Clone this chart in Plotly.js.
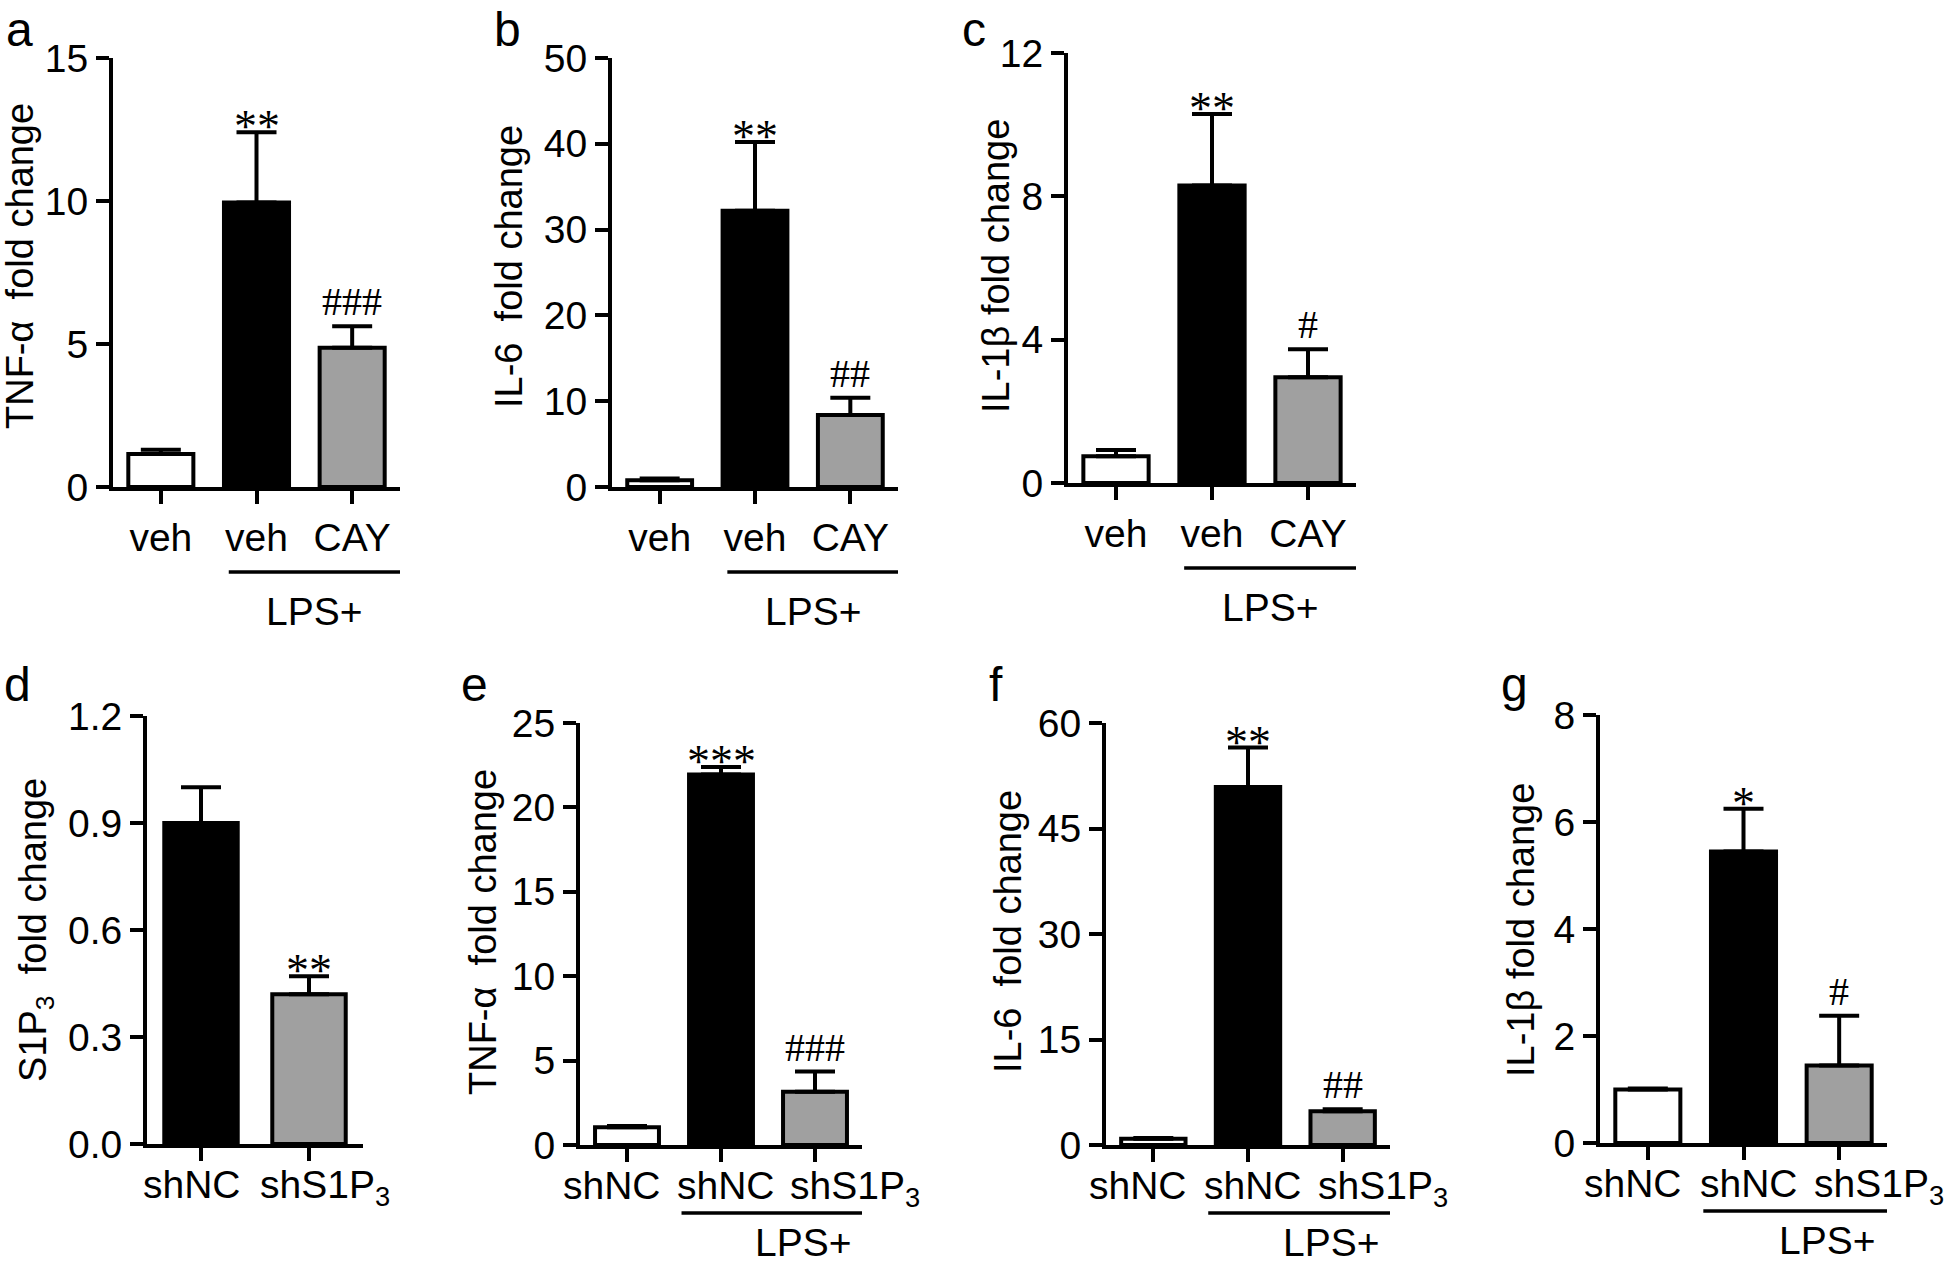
<!DOCTYPE html>
<html>
<head>
<meta charset="utf-8">
<script src="https://cdn.plot.ly/plotly-3.0.1.min.js"></script>
<style>html,body{margin:0;padding:0;background:#fff;}#chart{width:1946px;height:1274px;}</style>
</head>
<body>
<div id="chart"></div>
<script>
// ---------- data ----------
const labelsTop = ['veh', 'veh', 'CAY'];
const labelsD = ['shNC', 'shS1P<sub>3</sub>'];
const labelsBottom = ['shNC', 'shNC', 'shS1P<sub>3</sub>'];

const tnfA = [1.15, 9.95, 4.87];
const tnfAErr = [0.15, 2.45, 0.75];
const sigA = ['', '**', '###'];

const il6B = [0.8, 32.2, 8.4];
const il6BErr = [0.2, 8.0, 2.0];
const sigB = ['', '**', '##'];

const il1bC = [0.75, 8.3, 2.95];
const il1bCErr = [0.17, 2.0, 0.78];
const sigC = ['', '**', '#'];

const s1p3D = [0.90, 0.42];
const s1p3DErr = [0.10, 0.05];
const sigD = ['', '**'];

const tnfE = [1.05, 21.95, 3.15];
const tnfEErr = [0.08, 0.45, 1.2];
const sigE = ['', '***', '###'];

const il6F = [0.9, 50.9, 4.8];
const il6FErr = [0.1, 5.6, 0.3];
const sigF = ['', '**', '##'];

const il1bG = [1.0, 5.45, 1.45];
const il1bGErr = [0.02, 0.8, 0.93];
const sigG = ['', '*', '#'];

const yTitles = ['TNF-\u03b1\u00a0 fold change', 'IL-6\u00a0 fold change', 'IL-1\u03b2 fold change',
                 'S1P<sub>3</sub>\u00a0 fold change', 'TNF-\u03b1\u00a0 fold change', 'IL-6\u00a0 fold change', 'IL-1\u03b2 fold change'];
const panelLetters = ['a', 'b', 'c', 'd', 'e', 'f', 'g'];
const yMax = [15, 50, 12, 1.2, 25, 60, 8];
const yStep = [5, 10, 4, 0.3, 5, 15, 2];
const groupLabel = 'LPS+';

// ---------- layout (pixels) ----------
const W = 1946, H = 1274;
const px = x => x / W;
const py = y => 1 - y / H;
// [left(y-axis), right(x-axis end), top, bottom(zero)]
const boxes = [
  [113, 400, 58, 487],
  [612, 898, 58, 487],
  [1068, 1356, 53, 483],
  [147, 363, 716, 1144],
  [580, 862, 723, 1145],
  [1106, 1390, 723, 1145],
  [1600, 1887, 715, 1143]
];
const titleX = [20, 509, 996, 36, 483, 1008, 1521];
const titleY = [266, 266, 266, 930, 932, 932, 930];
// left edge and top edge of the panel letters
const letterPos = [[4, 1], [492, 1], [960, 1], [2, 656], [459, 656], [987, 656], [1499, 656]];
const fillColors = ['#ffffff', '#000000', '#a0a0a0'];
const labelShift3 = [-15, 5, 40];
const labelShift2 = [-9, 16];

const panels = [
  {labels: labelsTop, vals: tnfA, errs: tnfAErr, sig: sigA},
  {labels: labelsTop, vals: il6B, errs: il6BErr, sig: sigB},
  {labels: labelsTop, vals: il1bC, errs: il1bCErr, sig: sigC},
  {labels: labelsD, vals: s1p3D, errs: s1p3DErr, sig: sigD},
  {labels: labelsBottom, vals: tnfE, errs: tnfEErr, sig: sigE},
  {labels: labelsBottom, vals: il6F, errs: il6FErr, sig: sigF},
  {labels: labelsBottom, vals: il1bG, errs: il1bGErr, sig: sigG}
];

const FONT = 'Liberation Sans, Arial, sans-serif';
const SERIF = 'Liberation Serif, Times New Roman, serif';
const traces = [];
const layout = {
  width: W, height: H,
  margin: {l: 0, r: 0, t: 0, b: 0},
  paper_bgcolor: '#fff', plot_bgcolor: '#fff',
  showlegend: false,
  bargap: 0.32,
  annotations: [], shapes: [],
  font: {family: FONT, color: '#000'}
};

panels.forEach((p, i) => {
  const n = i + 1;
  const xa = 'x' + (n === 1 ? '' : n), ya = 'y' + (n === 1 ? '' : n);
  const xKey = 'xaxis' + (n === 1 ? '' : n), yKey = 'yaxis' + (n === 1 ? '' : n);
  const idx = p.vals.map((_, k) => k);
  const colors = p.vals.length === 2 ? ['#000000', '#a0a0a0'] : fillColors;
  traces.push({
    type: 'bar', x: idx, y: p.vals, xaxis: xa, yaxis: ya,
    marker: {color: colors, line: {color: '#000', width: 4}},
    error_y: {type: 'data', array: p.errs, arrayminus: p.errs.map(() => 0), symmetric: false,
              color: '#000', thickness: 4, width: 20},
    hoverinfo: 'skip'
  });
  const b = boxes[i];
  const bottomRow = i >= 4;
  const nativeLabels = i < 3;
  const tickVals = [];
  for (let v = 0; v <= yMax[i] + 1e-9; v += yStep[i]) tickVals.push(+v.toFixed(3));
  layout[xKey] = {
    domain: [px(b[0]), px(b[1])], anchor: ya,
    range: [-0.5, p.vals.length - 0.5],
    tickvals: idx, ticktext: p.labels, showticklabels: nativeLabels, tickangle: 0,
    ticks: 'outside', ticklen: 13, tickwidth: 4, tickcolor: '#000',
    showline: true, linewidth: 4, linecolor: '#000', showgrid: false, zeroline: false,
    tickfont: {size: 39, family: FONT, color: '#000'}, fixedrange: true
  };
  layout[yKey] = {
    domain: [py(b[3]), py(b[2])], anchor: xa,
    range: [0, yMax[i]], tickvals: tickVals,
    tickformat: i === 3 ? '.1f' : 'd',
    ticks: 'outside', ticklen: 13, tickwidth: 4, tickcolor: '#000',
    showline: true, linewidth: 4, linecolor: '#000', showgrid: false, zeroline: false,
    tickfont: {size: 39, family: FONT, color: '#000'}, fixedrange: true
  };
  // y title
  layout.annotations.push({
    text: yTitles[i], xref: 'paper', yref: 'paper', x: px(titleX[i]), y: py(titleY[i]),
    xanchor: 'center', yanchor: 'middle', textangle: -90, showarrow: false,
    font: {size: 38, family: FONT, color: '#000'}
  });
  // panel letter
  layout.annotations.push({
    text: panelLetters[i], xref: 'paper', yref: 'paper', x: px(letterPos[i][0]), y: py(letterPos[i][1]),
    xanchor: 'left', yanchor: 'top', showarrow: false,
    font: {size: 48, family: FONT, color: '#000'}
  });
  // significance marks
  p.sig.forEach((s, k) => {
    if (!s) return;
    const star = s[0] === '*';
    layout.annotations.push({
      text: s, xref: xa, yref: ya, x: k, y: p.vals[k] + p.errs[k],
      xanchor: 'center', yanchor: 'bottom', yshift: star ? -22 : 0, showarrow: false,
      font: {size: star ? 46 : 40, family: SERIF, color: '#000'}
    });
  });
  // x labels drawn as text under the ticks (row 2)
  if (!nativeLabels) {
    const shifts = p.vals.length === 2 ? labelShift2 : labelShift3;
    p.labels.forEach((lab, k) => {
      layout.annotations.push({
        text: lab, xref: xa, yref: ya, x: k, y: 0, xanchor: 'center', yanchor: 'top',
        xshift: shifts[k], yshift: -17, showarrow: false,
        font: {size: 39, family: FONT, color: '#000'}
      });
    });
  }
  // LPS+ bracket line and label
  if (i !== 3) {
    const x0 = bottomRow ? 0.58 : 0.71, x1 = bottomRow ? 3.07 : 2.63, xt = bottomRow ? 1.88 : 1.61;
    const lineY = bottomRow ? b[3] + 68 : b[3] + 85;
    const textY = bottomRow ? b[3] + 97 : b[3] + 124;
    layout.shapes.push({type: 'line', xref: xa, yref: 'paper', x0: x0, x1: x1, y0: py(lineY), y1: py(lineY),
                        line: {color: '#000', width: 3.5}});
    layout.annotations.push({
      text: groupLabel, xref: xa, yref: 'paper', x: xt, y: py(textY), xanchor: 'center', yanchor: 'middle',
      showarrow: false, font: {size: 39, family: FONT, color: '#000'}
    });
  }
});

Plotly.newPlot('chart', traces, layout, {displayModeBar: false, staticPlot: true});
</script>
</body>
</html>
